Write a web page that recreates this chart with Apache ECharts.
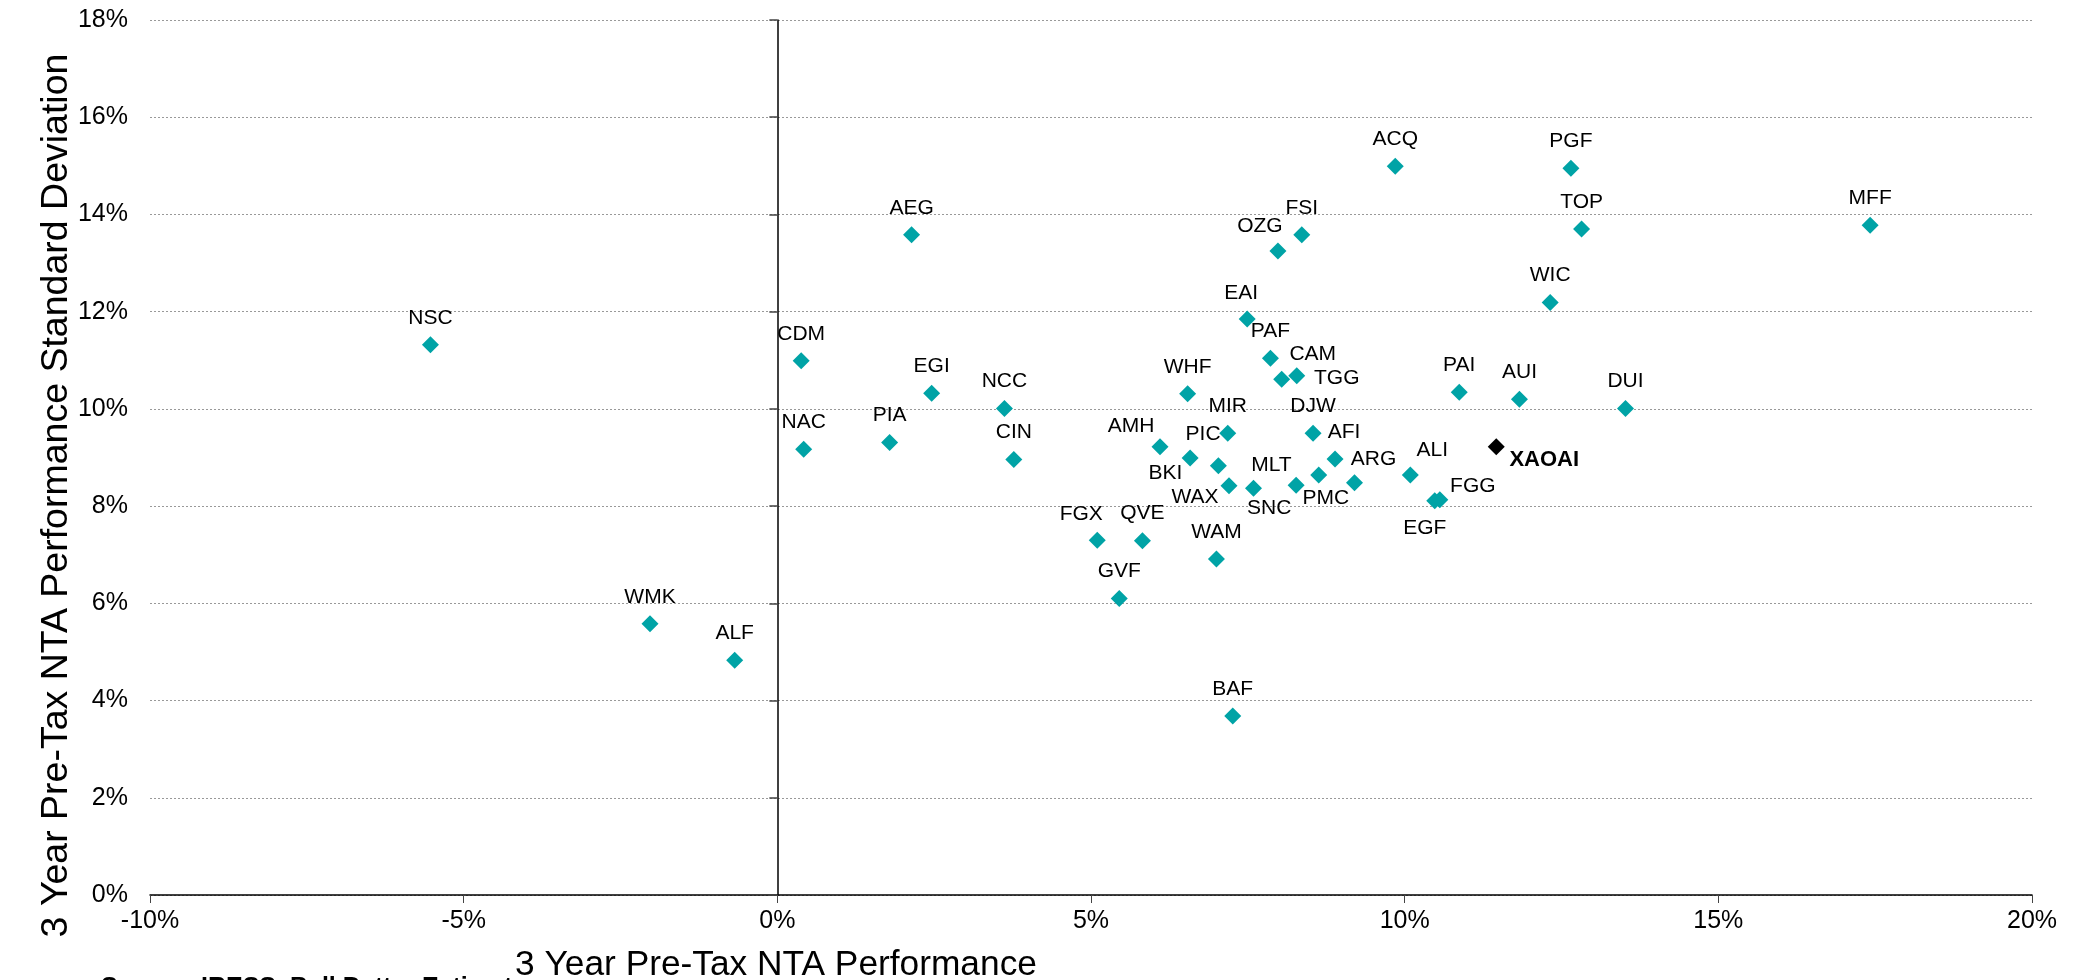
<!DOCTYPE html>
<html>
<head>
<meta charset="utf-8">
<script src="https://cdn.jsdelivr.net/npm/echarts@6/dist/echarts.min.js"></script>
<style>
html,body{margin:0;padding:0;background:#fff;}
#chart{width:2078px;height:980px;}
</style>
</head>
<body>
<div id="chart"></div>
<script>
// ---- Data (values in %) ----
const names = ['NSC','WMK','ALF','CDM','NAC','PIA','AEG','EGI','NCC','CIN','FGX','GVF','QVE','AMH','WHF','PIC','WAM','BKI','MIR','WAX','BAF','EAI','MLT','PAF','OZG','CAM','SNC','TGG','FSI','DJW','PMC','AFI','ARG','ACQ','ALI','EGF','FGG','PAI','XAOAI','AUI','WIC','PGF','TOP','DUI','MFF'];
const performance = [-5.53,-2.03,-0.68,0.38,0.42,1.79,2.14,2.46,3.62,3.77,5.10,5.45,5.82,6.10,6.54,6.58,7.00,7.03,7.18,7.20,7.26,7.49,7.59,7.86,7.98,8.04,8.27,8.28,8.36,8.54,8.63,8.89,9.20,9.85,10.09,10.48,10.56,10.87,11.46,11.83,12.32,12.65,12.82,13.52,17.42];
const stdDev = [11.32,5.58,4.83,10.99,9.17,9.31,13.58,10.32,10.01,8.96,7.30,6.10,7.29,9.22,10.31,8.99,6.91,8.83,9.50,8.42,3.68,11.85,8.37,11.04,13.25,10.61,8.43,10.68,13.58,9.50,8.64,8.97,8.48,14.99,8.64,8.11,8.13,10.34,9.22,10.20,12.19,14.95,13.70,10.01,13.78];
const highlightName = 'XAOAI';
const xTicks = {min: -10, max: 20, interval: 5};
const yTicks = {min: 0, max: 18, interval: 2};
const xTitle = '3 Year Pre-Tax NTA Performance';
const yTitle = '3 Year Pre-Tax NTA Performance Standard Deviation';
const sourceText = 'Source: IRESS, Bell Potter Estimates';

// ---- Label placement (style only) ----
const defaultLabelOffset = [0, -27];
const labelOffsets = {
  OZG:[-18,-25], EAI:[-6,-26], CAM:[31,-25], TGG:[40,2], AMH:[-29,-21],
  PIC:[13,-24], BKI:[-53,7], WAX:[-34,12], MLT:[18,-23], SNC:[-27,23],
  PMC:[7,23], AFI:[9,-27], ARG:[19,-24], ALI:[22,-25], EGF:[-10,27],
  FGG:[33,-14], XAOAI:[48,13], FGX:[-16,-26]
};

const FONT = '"Liberation Sans", Arial, Helvetica, sans-serif';
const TEAL = '#00A3A6';

function makePoint(i){
  const n = names[i];
  const hl = n === highlightName;
  return {
    name: n,
    value: [performance[i], stdDev[i]],
    itemStyle: {color: hl ? '#000' : TEAL, opacity: 1},
    label: {
      show: true,
      formatter: n,
      position: 'inside',
      offset: labelOffsets[n] || defaultLabelOffset,
      color: '#000',
      fontFamily: FONT,
      fontSize: hl ? 22 : 21,
      fontWeight: hl ? 'bold' : 'normal'
    }
  };
}
const points = names.map((n, i) => makePoint(i));

const chart = echarts.init(document.getElementById('chart'), null, {renderer: 'canvas'});
chart.setOption({
  backgroundColor: '#fff',
  animation: false,
  grid: {left: 150, right: 46, top: 20, bottom: 85, containLabel: false, outerBoundsMode: 'none'},
  xAxis: {
    type: 'value',
    min: xTicks.min, max: xTicks.max, interval: xTicks.interval,
    axisLine: {show: true, onZero: true, lineStyle: {color: '#000', width: 1.5}},
    axisTick: {show: true, length: 8, lineStyle: {color: '#444', width: 1}},
    axisLabel: {formatter: v => v + '%', color: '#000', fontSize: 25, fontFamily: FONT, margin: 14},
    splitLine: {show: false},
    name: xTitle,
    nameLocation: 'middle',
    nameMoveOverlap: false,
    nameGap: 53,
    nameTextStyle: {color: '#000', fontSize: 35.3, fontFamily: FONT, padding: [0, 630, 0, 0]}
  },
  yAxis: [
    {
      type: 'value',
      min: yTicks.min, max: yTicks.max, interval: yTicks.interval,
      axisLine: {show: true, onZero: true, lineStyle: {color: '#000', width: 1.5}},
      axisTick: {show: true, length: 8, lineStyle: {color: '#444', width: 1.5}},
      axisLabel: {show: false},
      splitLine: {show: true, lineStyle: {color: '#999', width: 1, type: [2, 2]}}
    },
    {
      type: 'value',
      position: 'left',
      min: yTicks.min, max: yTicks.max, interval: yTicks.interval,
      axisLine: {show: false, onZero: false},
      axisTick: {show: false},
      axisLabel: {formatter: v => v + '%', color: '#000', fontSize: 25, fontFamily: FONT, margin: 22},
      splitLine: {show: false},
      name: yTitle,
      nameLocation: 'middle',
      nameMoveOverlap: false,
      nameGap: 74,
      nameTextStyle: {color: '#000', fontSize: 37.5, fontFamily: FONT, padding: [0, 76, 0, 0]}
    }
  ],
  graphic: [{
    type: 'text', left: 101, top: 976,
    style: {text: sourceText, font: 'bold 25px ' + FONT, fill: '#000'}
  }],
  series: [{
    type: 'scatter',
    xAxisIndex: 0,
    yAxisIndex: 0,
    symbol: 'diamond',
    symbolSize: 17,
    itemStyle: {opacity: 1},
    data: points,
    emphasis: {disabled: true}
  }]
});
</script>
</body>
</html>
